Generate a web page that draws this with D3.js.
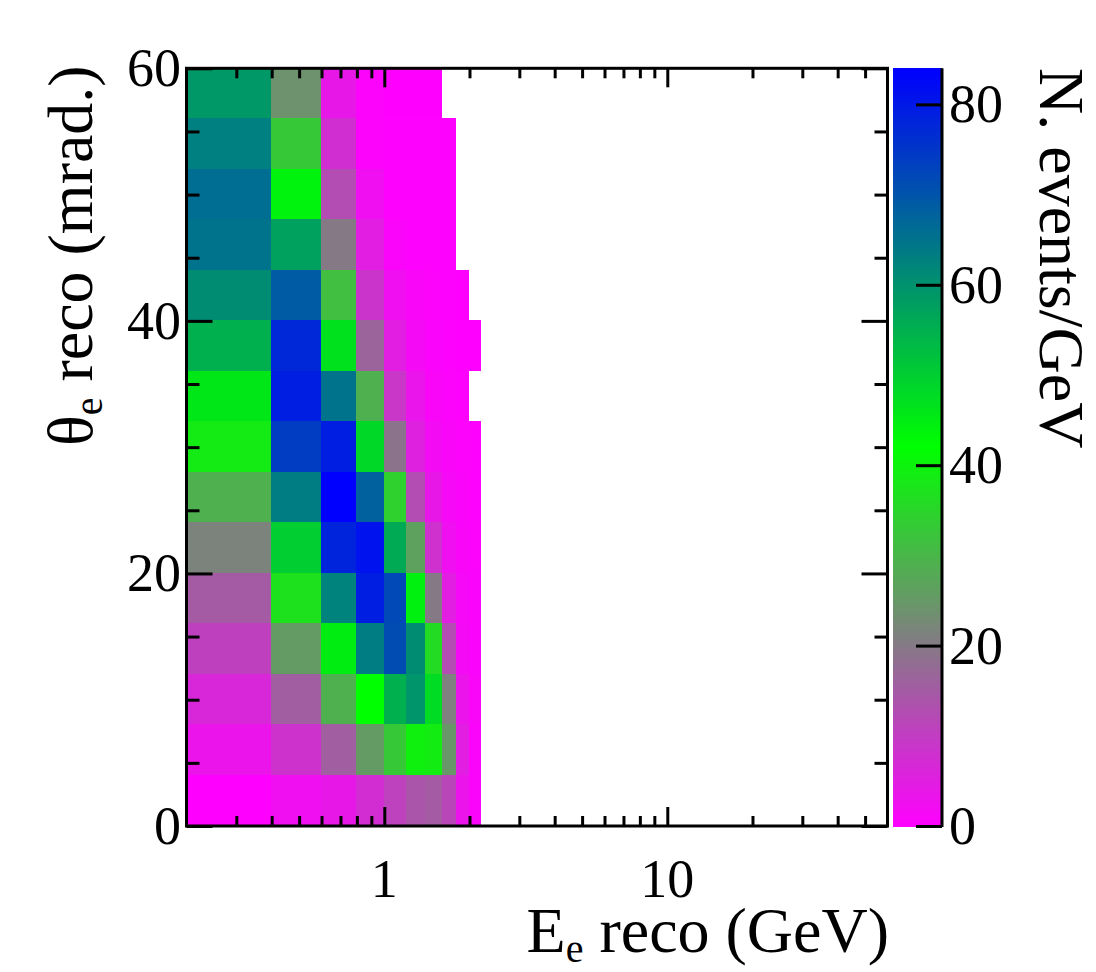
<!DOCTYPE html>
<html>
<head>
<meta charset="utf-8">
<script src="https://cdn.jsdelivr.net/npm/d3@7"></script>
<style>
  html, body { margin: 0; padding: 0; background: #fff; }
  svg { display: block; }
  text { font-family: "Liberation Serif", serif; fill: #000; }
  .tick line, .frame { stroke: #000; stroke-width: 3; }
</style>
</head>
<body>
<div id="chart"></div>
<script>
// bin edges
var energyEdges = [0.2, 0.4, 0.6, 0.8, 1.0, 1.2, 1.4, 1.6, 1.8, 2.0, 2.2];
var thetaEdges = [0, 4, 8, 12, 16, 20, 24, 28, 32, 36, 40, 44, 48, 52, 56, 60];

// N. events/GeV per energy bin, one list per theta bin (rows stop where the histogram is empty)
var row0to4   = [0.2, 2.5, 4, 7.4, 10.7, 14, 15, 11.5, 3.3, 0.8];
var row4to8   = [3.3, 8.2, 15.5, 25.5, 33, 39.5, 38.8, 24.7, 5, 0.8];
var row8to12  = [6.5, 15.5, 29, 42, 55, 59.5, 48, 21, 3.3, 1];
var row12to16 = [10.5, 25.5, 45, 63.5, 71.5, 61, 36, 12.5, 1.6, 0.7];
var row16to20 = [15, 37, 62.5, 79, 72, 44.5, 20, 5, 1.5, 0.7];
var row20to24 = [21.5, 50, 78, 81, 56, 26.5, 8, 2.5, 1, 0.5];
var row24to28 = [29, 63.5, 84, 68, 34.5, 12.5, 4, 1.5, 0.8, 0.4];
var row28to32 = [38.7, 74, 79, 48.5, 19, 5.5, 2, 1, 0.5, 0.3];
var row32to36 = [46, 79, 65, 29, 9, 3.5, 1, 0.5, 0.3];
var row36to40 = [55, 77.5, 47, 16.5, 5, 1.7, 0.6, 0.4, 0.2, 0.2];
var row40to44 = [61, 69, 31.5, 8.5, 2.5, 1, 0.5, 0.3, 0.2];
var row44to48 = [65, 57.5, 20, 5, 0.8, 0.3, 0.3, 0.3];
var row48to52 = [66, 44, 12.5, 2.5, 0.4, 0.4, 0.4, 0.4];
var row52to56 = [63, 33, 7.5, 0.5, 0.3, 0.3, 0.3, 0.3];
var row56to60 = [59, 24, 4, 0.5, 0.2, 0.1, 0.1];

var rows = [row0to4, row4to8, row8to12, row12to16, row16to20, row20to24, row24to28, row28to32,
            row32to36, row36to40, row40to44, row44to48, row48to52, row52to56, row56to60];

// ticks
var energyMajor = [1, 10];
var energyMinor = [0.3, 0.4, 0.5, 0.6, 0.7, 0.8, 0.9, 2, 3, 4, 5, 6, 7, 8, 9, 20, 30, 40, 50];
var thetaMajor = [0, 20, 40, 60];
var thetaMinor = [5, 10, 15, 25, 30, 35, 45, 50, 55];
var colorTicks = [0, 20, 40, 60, 80];

var zMax = 84;

var svg = d3.select("#chart").append("svg")
    .attr("width", 1096)
    .attr("height", 972);

var left = 186.5, right = 887.5, top_ = 68.3, bottom = 826;

var x = d3.scaleLog().domain([0.2, 60]).range([left, right]);
var y = d3.scaleLinear().domain([0, 60]).range([bottom, top_]);
var color = d3.scaleLinear().domain([0, zMax / 2, zMax]).range(["#ff00ff", "#00ff00", "#0000ff"]);

/* histogram cells */
var cells = [];
rows.forEach(function(vals, i) {
    vals.forEach(function(v, j) {
        cells.push({x0: energyEdges[j], x1: energyEdges[j + 1], y0: thetaEdges[i], y1: thetaEdges[i + 1], v: v});
    });
});

svg.append("g").selectAll("rect")
    .data(cells)
    .enter().append("rect")
    .attr("x", function(d) { return Math.floor(x(d.x0)); })
    .attr("width", function(d) { return Math.floor(x(d.x1)) - Math.floor(x(d.x0)); })
    .attr("y", function(d) { return Math.floor(y(d.y1)); })
    .attr("height", function(d) { return Math.floor(y(d.y0)) - Math.floor(y(d.y1)); })
    .attr("fill", function(d) { return color(d.v); })
    .attr("shape-rendering", "crispEdges");

/* ticks on all four sides, no labels on the d3 axes except where asked */
function ticks(axis, values, size, pos, label) {
    var g = svg.append("g")
        .attr("transform", pos)
        .call(axis.tickValues(values).tickSize(size).tickSizeOuter(0));
    g.select(".domain").remove();
    if (!label) g.selectAll("text").remove();
    return g;
}

ticks(d3.axisBottom(x), energyMajor, -19, "translate(0," + bottom + ")");
ticks(d3.axisBottom(x), energyMinor, -10, "translate(0," + bottom + ")");
ticks(d3.axisTop(x), energyMajor, -19, "translate(0," + top_ + ")");
ticks(d3.axisTop(x), energyMinor, -10, "translate(0," + top_ + ")");
ticks(d3.axisLeft(y), thetaMajor, -26, "translate(" + left + ",0)");
ticks(d3.axisLeft(y), thetaMinor, -13, "translate(" + left + ",0)");
ticks(d3.axisRight(y), thetaMajor, -26, "translate(" + right + ",0)");
ticks(d3.axisRight(y), thetaMinor, -13, "translate(" + right + ",0)");

svg.append("rect").attr("class", "frame")
    .attr("x", left).attr("y", top_)
    .attr("width", right - left).attr("height", bottom - top_)
    .attr("fill", "none");

/* tick labels */
var labelSize = 54;
svg.append("g").selectAll("text")
    .data(energyMajor)
    .enter().append("text")
    .attr("x", function(d) { return x(d); })
    .attr("y", 897)
    .attr("text-anchor", "middle")
    .attr("font-size", labelSize)
    .text(function(d) { return d; });

svg.append("g").selectAll("text")
    .data(thetaMajor)
    .enter().append("text")
    .attr("x", 181)
    .attr("y", function(d) { return y(d) + 18; })
    .attr("text-anchor", "end")
    .attr("font-size", labelSize)
    .text(function(d) { return d; });

/* colour bar */
var barLeft = 893, barRight = 942;
var zScale = d3.scaleLinear().domain([0, zMax]).range([bottom, top_]);
var steps = d3.range(0, 255).map(function(i) { return i * zMax / 255; });

svg.append("g").selectAll("rect")
    .data(steps)
    .enter().append("rect")
    .attr("x", barLeft)
    .attr("width", barRight - barLeft)
    .attr("y", function(d) { return zScale(d + zMax / 255); })
    .attr("height", function() { return zScale(0) - zScale(zMax / 255) + 0.5; })
    .attr("fill", function(d) { return color(d + zMax / 510); })
    .attr("shape-rendering", "crispEdges");

ticks(d3.axisRight(zScale), colorTicks, -26, "translate(" + barRight + ",0)");

svg.append("line").attr("class", "frame")
    .attr("x1", barRight).attr("x2", barRight)
    .attr("y1", top_).attr("y2", bottom + 1);

svg.append("g").selectAll("text")
    .data(colorTicks)
    .enter().append("text")
    .attr("x", 949)
    .attr("y", function(d) { return zScale(d) + 18; })
    .attr("font-size", labelSize)
    .text(function(d) { return d; });

/* axis titles */
var titleSize = 64;
var xTitle = svg.append("text")
    .attr("x", 889).attr("y", 952)
    .attr("text-anchor", "end")
    .attr("font-size", titleSize);
xTitle.append("tspan").text("E");
xTitle.append("tspan").attr("dy", 10).attr("font-size", 40).text("e");
xTitle.append("tspan").attr("dy", -10).text(" reco (GeV)");

var yTitle = svg.append("text")
    .attr("transform", "translate(92,446) rotate(-90)")
    .attr("font-size", titleSize);
yTitle.append("tspan").text("θ");
yTitle.append("tspan").attr("dy", 10).attr("font-size", 40).text("e");
yTitle.append("tspan").attr("dy", -10).text(" reco (mrad.)");

svg.append("text")
    .attr("transform", "translate(1040,68) rotate(90)")
    .attr("font-size", titleSize)
    .text("N. events/GeV");
</script>
</body>
</html>
